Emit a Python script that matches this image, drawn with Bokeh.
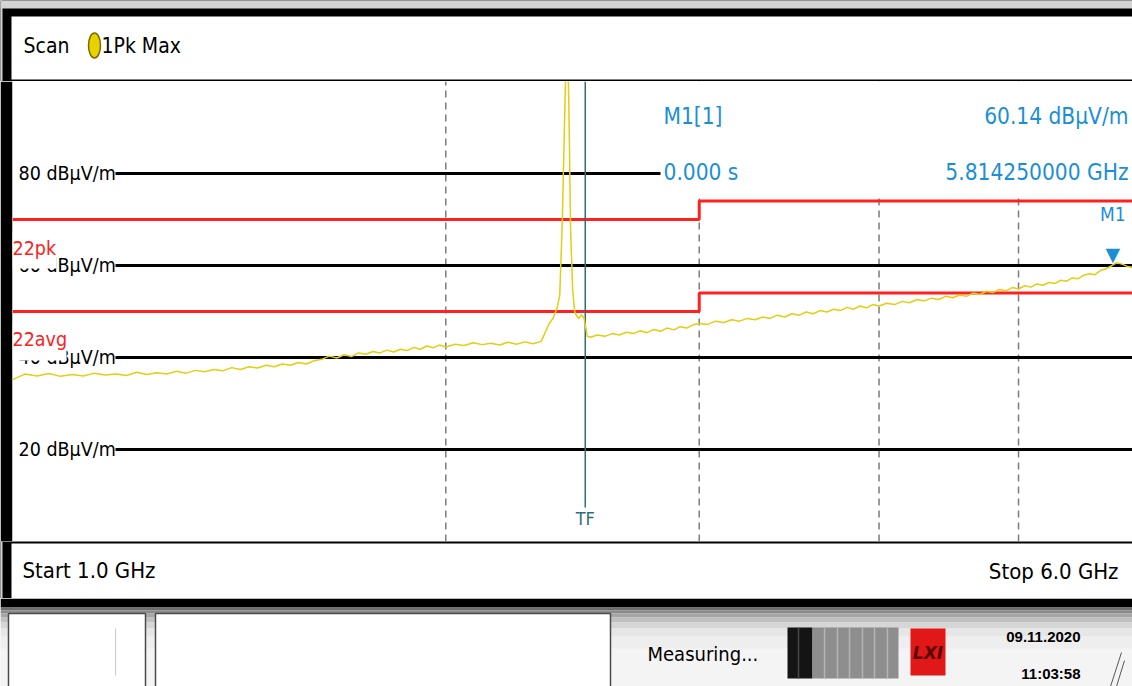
from bokeh.plotting import figure
from bokeh.layouts import column
from bokeh.models import Range1d, LinearScale
from bokeh.core.properties import value
from bokeh.embed import file_html
from bokeh.resources import INLINE

# ---------------- data ----------------
start_ghz = 1.0
stop_ghz = 6.0

freq_ghz = [
    1.00, 1.02, 1.04, 1.06, 1.08, 1.10, 1.12, 1.14, 1.16, 1.18,
    1.20, 1.22, 1.24, 1.26, 1.28, 1.30, 1.32, 1.34, 1.36, 1.38,
    1.40, 1.42, 1.44, 1.46, 1.48, 1.50, 1.52, 1.54, 1.56, 1.58,
    1.60, 1.62, 1.64, 1.66, 1.68, 1.70, 1.72, 1.74, 1.76, 1.78,
    1.80, 1.82, 1.84, 1.86, 1.88, 1.90, 1.92, 1.94, 1.96, 1.98, 2.00,
    2.03, 2.06, 2.09, 2.12, 2.15, 2.18, 2.21, 2.24, 2.27, 2.30, 2.33,
    2.345, 2.36, 2.375, 2.39, 2.40, 2.41, 2.42, 2.427, 2.435, 2.442,
    2.45, 2.458, 2.466, 2.475, 2.485, 2.495, 2.502, 2.508,
    2.52, 2.55, 2.58, 2.61, 2.64, 2.67, 2.70, 2.73, 2.76, 2.79,
    2.82, 2.85, 2.88, 2.91, 2.94, 2.97, 3.00,
    3.04, 3.08, 3.12, 3.16, 3.20, 3.24, 3.28, 3.32, 3.36, 3.40,
    3.44, 3.48, 3.52, 3.56, 3.60, 3.64, 3.68, 3.72, 3.76, 3.80,
    3.84, 3.88, 3.92, 3.96, 4.00,
    4.05, 4.10, 4.15, 4.20, 4.25, 4.30, 4.35, 4.40, 4.45, 4.50,
    4.55, 4.60, 4.65, 4.70, 4.75, 4.80, 4.85, 4.90, 4.95, 5.00,
    5.05, 5.10, 5.15, 5.20, 5.25, 5.30, 5.35, 5.40, 5.45, 5.50,
    5.55, 5.60, 5.65, 5.70, 5.75, 5.80, 5.81425, 5.85, 5.90, 5.95, 6.00,
]
level_dbuv = [
    35.2, 36.4, 36.0, 36.5, 35.9, 36.3, 36.0, 36.6, 36.2, 36.4,
    36.1, 36.8, 36.3, 36.7, 36.4, 37.0, 36.6, 37.2, 36.9, 37.4,
    37.1, 37.8, 37.4, 38.0, 37.7, 38.3, 38.0, 38.6, 38.3, 38.9,
    38.6, 39.3, 39.6, 40.3, 39.9, 40.6, 40.2, 41.0, 40.7, 41.3,
    41.0, 41.6, 41.2, 41.8, 41.5, 42.2, 41.8, 42.5, 42.1, 42.7, 42.3,
    42.9, 42.6, 43.2, 42.8, 43.1, 42.7, 43.3, 42.9, 43.4, 43.0, 43.5,
    45.5, 47.4, 48.6, 50.8, 53.5, 70.0, 95.0, 112.0, 96.0, 68.0,
    54.8, 50.0, 49.0, 48.5, 49.3, 48.6, 46.5, 44.6,
    44.4, 44.9, 44.6, 45.2, 44.9, 45.5, 45.2, 45.8, 45.4, 46.1,
    45.7, 46.4, 46.0, 46.7, 46.4, 47.1, 47.4,
    47.2, 47.9, 47.6, 48.2, 47.9, 48.5, 48.2, 48.8, 48.5, 49.2,
    48.8, 49.5, 49.2, 49.9, 49.5, 50.2, 49.9, 50.5, 50.2, 50.9,
    50.5, 51.2, 50.8, 51.5, 51.2,
    51.8, 51.5, 52.2, 51.9, 52.6, 52.3, 52.9, 52.6, 53.3, 53.0,
    53.6, 53.3, 54.0, 53.7, 54.4, 54.1, 54.8, 54.5, 55.2, 54.9,
    55.6, 55.3, 56.0, 55.7, 56.3, 56.1, 56.8, 56.6, 57.3, 57.1,
    57.9, 58.2, 58.0, 58.9, 59.3, 59.9, 60.14, 60.6, 60.3, 59.8, 59.6,
]

limit_freq = [1.0, 3.0, 3.0, 6.0]
peak_limit = [70, 70, 74, 74]
avg_limit = [50, 50, 54, 54]
limit_names = ["22pk", "22avg"]

grid_freqs = [2.0, 3.0, 4.0, 5.0]
grid_levels = [20, 40, 60, 80]
level_labels = [f"{v} dBμV/m" for v in grid_levels]

tf_freq = 2.50
m1_freq = 5.81425
m1_level = 60.14
m1_time = "0.000 s"
trace_name = "1Pk Max"
status_text = "Measuring..."
date_text = "09.11.2020"
time_text = "11:03:58"

# ---------------- styling ----------------
W = 1132
FONT = value("DejaVu Sans Condensed")
BLUE = "#1a8fd6"
RED = "#ff2020"
TEAL = "#2e6d7c"
YELLOW = "#e2ce12"


def deco_fig(h, bg):
    f = figure(width=W, height=h, x_range=Range1d(0, W), y_range=Range1d(h, 0),
               x_axis_location=None, y_axis_location=None, toolbar_location=None,
               output_backend="svg", min_border=0, title=None)
    f.background_fill_color = bg
    f.border_fill_color = bg
    f.outline_line_color = None
    f.grid.visible = False
    f.frame_align = False
    return f


# ---------- header (page y 0..81) ----------
hd = deco_fig(81, "black")
hd.quad(left=0, right=W, top=0, bottom=8, fill_color="#d4d4d4", line_color=None)
hd.quad(left=0, right=2, top=0, bottom=81, fill_color="#d4d4d4", line_color=None)
hd.quad(left=11, right=W, top=16, bottom=79, fill_color="white", line_color=None)
hd.text(x=[23], y=[45], text=["Scan"], text_font=FONT, text_font_size="21px",
        text_baseline="middle", text_color="black")
hd.ellipse(x=[94], y=[45], width=12, height=25, fill_color="#e8d200",
           line_color="#7a6a00", line_width=1.5)
hd.text(x=[101], y=[45], text=[trace_name], text_font=FONT, text_font_size="21px",
        text_baseline="middle", text_color="black")

# ---------- main plot (page y 81..541, frame x 12..1132) ----------
p = figure(width=W, height=460, x_axis_type="log",
           x_range=Range1d(start_ghz, stop_ghz), y_range=Range1d(0, 100),
           x_axis_location=None, y_axis_location=None, toolbar_location=None,
           output_backend="svg", title=None,
           min_border_left=12, min_border_right=0, min_border_top=0, min_border_bottom=0)
p.border_fill_color = "black"
p.background_fill_color = "white"
p.outline_line_color = None
p.grid.visible = False
p.frame_align = False
p.extra_x_ranges = {"px": Range1d(0, 1120)}
p.extra_x_scales = {"px": LinearScale()}
p.extra_y_ranges = {"py": Range1d(460, 0)}
p.extra_y_scales = {"py": LinearScale()}

# dashed frequency grid
p.segment(x0=grid_freqs, x1=grid_freqs, y0=[0] * len(grid_freqs), y1=[100] * len(grid_freqs),
          line_color="#7d7d7d", line_width=1.5, line_dash="7 5")
# level lines with labels
p.segment(x0=[103] * len(grid_levels), x1=[1120] * len(grid_levels), y0=grid_levels, y1=grid_levels,
          x_range_name="px", line_color="black", line_width=3)
p.text(x=[6] * len(grid_levels), y=grid_levels, text=level_labels, x_range_name="px",
       text_font=FONT, text_font_size="19.5px", text_baseline="middle", text_color="black")
# marker info panel
p.quad(left=648, right=1120, top=0, bottom=116, x_range_name="px", y_range_name="py",
       fill_color="white", line_color=None)
# limit lines
p.line(limit_freq, peak_limit, line_color=RED, line_width=3)
p.line(limit_freq, avg_limit, line_color=RED, line_width=3)
p.quad(left=[0, 0], right=[44, 54], top=[150, 242], bottom=[187, 279],
       x_range_name="px", y_range_name="py", fill_color="white", line_color=None)
p.text(x=[0, 0], y=[167, 258], text=limit_names, x_range_name="px", y_range_name="py",
       text_font=FONT, text_font_size="19.5px", text_baseline="middle", text_color=RED)
# TF line
p.segment(x0=[tf_freq], x1=[tf_freq], y0=[0], y1=[426], y_range_name="py",
          line_color=TEAL, line_width=1.5)
p.text(x=[tf_freq], y=[437], text=["TF"], y_range_name="py", text_font=FONT,
       text_font_size="18px", text_align="center", text_baseline="middle", text_color=TEAL)
# trace
p.line(freq_ghz, level_dbuv, line_color=YELLOW, line_width=1.5)
# marker
p.text(x=[m1_freq], y=[m1_level], text=["▼"], text_font=value("DejaVu Sans"),
       text_font_size="19px", text_align="center", text_baseline="bottom", text_color=BLUE)
p.text(x=[m1_freq], y=[132], text=["M1"], y_range_name="py", text_font=FONT,
       text_font_size="19px", text_align="center", text_baseline="middle", text_color=BLUE)
p.text(x=[651, 651], y=[34, 90], text=["M1[1]", m1_time], x_range_name="px", y_range_name="py",
       text_font=FONT, text_font_size="22.5px", text_baseline="middle", text_color=BLUE)
p.text(x=[1116, 1116], y=[34, 90],
       text=[f"{m1_level:.2f} dBμV/m", f"{m1_freq:.9f} GHz"],
       x_range_name="px", y_range_name="py", text_font=FONT, text_font_size="22.5px",
       text_align="right", text_baseline="middle", text_color=BLUE)

# ---------- footer (page y 541..598) ----------
ft = deco_fig(57, "black")
ft.quad(left=0, right=2, top=0, bottom=57, fill_color="#d4d4d4", line_color=None)
ft.quad(left=11, right=W, top=2, bottom=57, fill_color="white", line_color=None)
ft.text(x=[22], y=[29], text=[f"Start {start_ghz:.1f} GHz"], text_font=FONT,
        text_font_size="22px", text_baseline="middle", text_color="black")
ft.text(x=[1118], y=[30], text=[f"Stop {stop_ghz:.1f} GHz"], text_font=FONT,
        text_font_size="22px", text_align="right", text_baseline="middle", text_color="black")

# ---------- status bar (page y 598..686) ----------
st = deco_fig(88, "#f4f4f4")
st.quad(left=0, right=W, top=0, bottom=9, fill_color="black", line_color=None)
band_tops = [9, 12, 15, 19, 24, 30, 38]
band_bots = [12, 15, 19, 24, 30, 38, 50]
band_cols = ["#6e6e6e", "#8a8a8a", "#a6a6a6", "#c0c0c0", "#d6d6d6", "#e6e6e6", "#eeeeee"]
st.quad(left=0, right=W, top=band_tops, bottom=band_bots, fill_color=band_cols, line_color=None)
st.quad(left=[8, 155], right=[145, 610], top=[15, 15], bottom=[92, 92],
        fill_color="white", line_color="#4a4a4a", line_width=1.5)
st.segment(x0=[115], x1=[115], y0=[30], y1=[77], line_color="#c8c8c8", line_width=1)
st.text(x=[647], y=[55], text=[status_text], text_font=FONT, text_font_size="20px",
        text_baseline="middle", text_color="black")
st.quad(left=787, right=812, top=29, bottom=80, fill_color="#141414", line_color=None)
st.quad(left=812, right=898, top=29, bottom=80, fill_color="#8e8e8e", line_color=None)
st.segment(x0=[798], x1=[798], y0=[29], y1=[80], line_color="#4a4a4a", line_width=1.5)
sep = [824, 837, 849, 862, 874, 887]
st.segment(x0=sep, x1=sep, y0=[29] * len(sep), y1=[80] * len(sep), line_color="#b4b4b4", line_width=1.5)
st.quad(left=910, right=945, top=30, bottom=77, fill_color="#e01818", line_color=None)
st.text(x=[927.5], y=[54], text=["LXI"], text_font=value("DejaVu Sans"), text_font_size="17px",
        text_font_style="bold italic", text_align="center", text_baseline="middle",
        text_color="#5a0000")
st.text(x=[1080], y=[38], text=[date_text], text_font=value("Liberation Sans"), text_font_size="15px",
        text_font_style="bold", text_align="right", text_baseline="middle", text_color="black")
st.text(x=[1080], y=[75], text=[time_text], text_font=value("Liberation Sans"), text_font_size="15px",
        text_font_style="bold", text_align="right", text_baseline="middle", text_color="black")
st.segment(x0=[1110, 1116], x1=[1121, 1124], y0=[88, 88], y1=[54, 62],
           line_color="#555555", line_width=1)

layout = column(hd, p, ft, st, spacing=0)
open("out.html", "w").write(file_html(layout, INLINE))
